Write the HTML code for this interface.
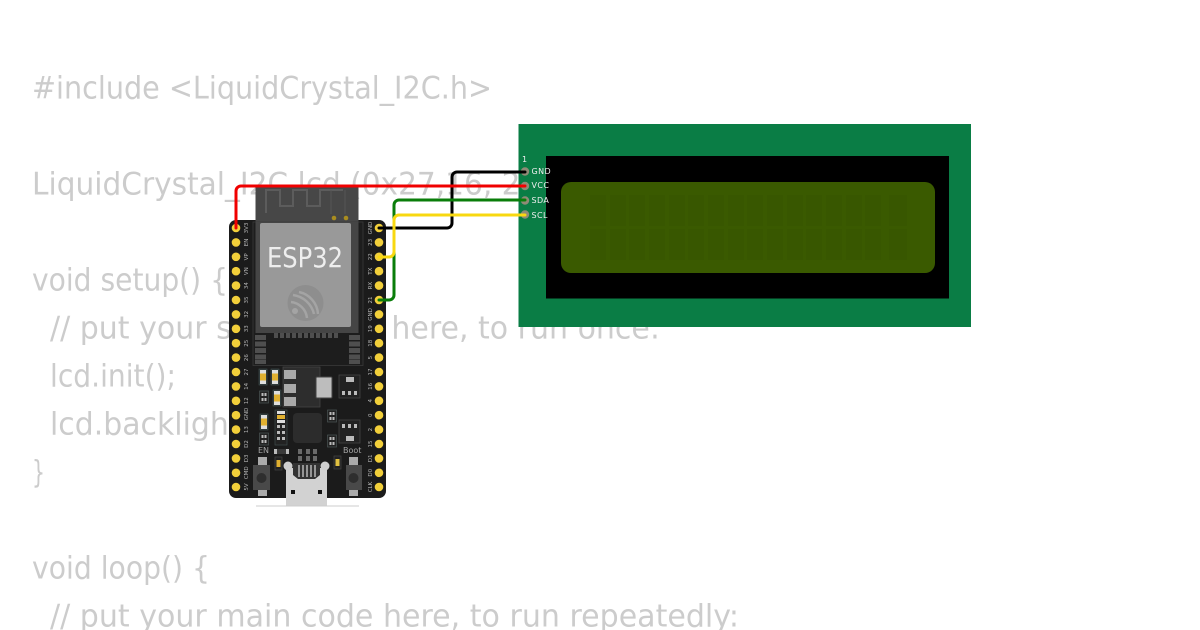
<!DOCTYPE html>
<html><head><meta charset="utf-8"><style>html,body{margin:0;padding:0;background:#fff;width:1200px;height:630px;overflow:hidden}svg{display:block}</style></head><body>
<svg width="1200" height="630" viewBox="0 0 1200 630" xmlns="http://www.w3.org/2000/svg">
<defs>
<g id="led"><rect x="-4" y="-8" width="8" height="16" fill="#2a3233" stroke="#3d4a4a" stroke-width=".7"/><rect x="-3" y="-7" width="6" height="14" fill="#ddd"/><rect x="-3" y="-3.5" width="6" height="7" fill="#e0b030"/></g>
<g id="dual"><rect x="-4.5" y="-6" width="9" height="12" fill="#222" stroke="#4a5555" stroke-width=".7"/><rect x="-2.5" y="-4" width="2" height="3" fill="#bbb"/><rect x=".5" y="-4" width="2" height="3" fill="#bbb"/><rect x="-2.5" y="1" width="2" height="3" fill="#bbb"/><rect x=".5" y="1" width="2" height="3" fill="#bbb"/></g>
</defs>
<g font-family="'DejaVu Sans','Liberation Sans',sans-serif" font-size="31.5" fill="#cccccc">
<text x="32" y="98.500" textLength="460" lengthAdjust="spacingAndGlyphs">#include &lt;LiquidCrystal_I2C.h&gt;</text>
<text x="32" y="194.500" textLength="510" lengthAdjust="spacingAndGlyphs">LiquidCrystal_I2C lcd (0x27,16, 2);</text>
<text x="32" y="290.500" textLength="196" lengthAdjust="spacingAndGlyphs">void setup() {</text>
<text x="50" y="338.500" textLength="610" lengthAdjust="spacingAndGlyphs">// put your setup code here, to run once:</text>
<text x="50" y="386.500" textLength="126" lengthAdjust="spacingAndGlyphs">lcd.init();</text>
<text x="50" y="434.500" textLength="224" lengthAdjust="spacingAndGlyphs">lcd.backlight();</text>
<text x="32" y="482.500" textLength="13" lengthAdjust="spacingAndGlyphs">}</text>
<text x="32" y="578.500" textLength="178" lengthAdjust="spacingAndGlyphs">void loop() {</text>
<text x="50" y="626.500" textLength="689" lengthAdjust="spacingAndGlyphs">// put your main code here, to run repeatedly:</text>
</g>

<!-- LCD -->
<rect x="518.5" y="124" width="452.5" height="203" fill="#0a7d45"/>
<rect x="546" y="156" width="403" height="142.500" fill="#000"/>
<rect x="561" y="182" width="374" height="91" rx="10" fill="#3a5a00"/>
<g fill="#385700">
<rect x="590" y="195" width="16" height="31"/><rect x="610" y="195" width="16" height="31"/><rect x="629" y="195" width="16" height="31"/><rect x="649" y="195" width="16" height="31"/><rect x="669" y="195" width="16" height="31"/><rect x="688" y="195" width="16" height="31"/><rect x="708" y="195" width="16" height="31"/><rect x="728" y="195" width="16" height="31"/><rect x="747" y="195" width="16" height="31"/><rect x="767" y="195" width="16" height="31"/><rect x="787" y="195" width="16" height="31"/><rect x="806" y="195" width="16" height="31"/><rect x="826" y="195" width="16" height="31"/><rect x="846" y="195" width="16" height="31"/><rect x="865" y="195" width="16" height="31"/><rect x="889" y="195" width="18" height="31"/>
<rect x="590" y="229" width="16" height="31"/><rect x="610" y="229" width="16" height="31"/><rect x="629" y="229" width="16" height="31"/><rect x="649" y="229" width="16" height="31"/><rect x="669" y="229" width="16" height="31"/><rect x="688" y="229" width="16" height="31"/><rect x="708" y="229" width="16" height="31"/><rect x="728" y="229" width="16" height="31"/><rect x="747" y="229" width="16" height="31"/><rect x="767" y="229" width="16" height="31"/><rect x="787" y="229" width="16" height="31"/><rect x="806" y="229" width="16" height="31"/><rect x="826" y="229" width="16" height="31"/><rect x="846" y="229" width="16" height="31"/><rect x="865" y="229" width="16" height="31"/><rect x="889" y="229" width="18" height="31"/>
</g>
<g font-family="'DejaVu Sans',sans-serif" font-size="8" fill="#eeeeee" letter-spacing=".4">
<text x="522" y="162">1</text><text x="531.500" y="174">GND</text><text x="531.500" y="188">VCC</text><text x="531.500" y="203">SDA</text><text x="531.500" y="218">SCL</text></g>

<!-- Board -->
<rect x="229" y="220" width="157" height="278" rx="7" fill="#1b1b1b"/>
<rect x="255.500" y="186" width="103" height="40" fill="#474747"/>
<rect x="253" y="222" width="110" height="143.500" fill="#1d1d1d" stroke="#3a3a3a" stroke-width=".8"/>
<rect x="255.500" y="222" width="103" height="111" fill="#454545"/>
<path d="M266 213V190H280V206H293V190H307V206H320V190H343" fill="none" stroke="#5c5c5c" stroke-width="2"/>
<path d="M331 190V214M345 190V214" fill="none" stroke="#565656" stroke-width="1"/>
<circle cx="334" cy="218" r="2.300" fill="#a98d1f"/><circle cx="346" cy="218" r="2.300" fill="#a98d1f"/>
<rect x="260" y="223" width="91" height="104" rx="2" fill="#999999"/>
<text x="267" y="267" font-family="'DejaVu Sans',sans-serif" font-size="28" fill="#eeeeee" textLength="76" lengthAdjust="spacingAndGlyphs">ESP32</text>
<circle cx="305.500" cy="303" r="18" fill="#8e8e8e"/>
<g fill="none" stroke="#a4a4a4" stroke-width="2.500"><path d="M293 295a25 25 0 0 1 21 19"/><path d="M291 302a18 18 0 0 1 16 16"/><path d="M299 292a24 24 0 0 1 19 22"/></g>
<circle cx="295" cy="311" r="3" fill="#a4a4a4"/>
<g fill="#4f4f4f"><rect x="274" y="333" width="4" height="5"/><rect x="280" y="333" width="4" height="5"/><rect x="286" y="333" width="4" height="5"/><rect x="292" y="333" width="4" height="5"/><rect x="298" y="333" width="4" height="5"/><rect x="304" y="333" width="4" height="5"/><rect x="310" y="333" width="4" height="5"/><rect x="316" y="333" width="4" height="5"/><rect x="322" y="333" width="4" height="5"/><rect x="328" y="333" width="4" height="5"/><rect x="334" y="333" width="4" height="5"/>
<rect x="255" y="335" width="11" height="5"/><rect x="255" y="341.500" width="11" height="5"/><rect x="255" y="348" width="11" height="5"/><rect x="255" y="354.500" width="11" height="5"/><rect x="255" y="360" width="11" height="4"/>
<rect x="349" y="335" width="11" height="5"/><rect x="349" y="341.500" width="11" height="5"/><rect x="349" y="348" width="11" height="5"/><rect x="349" y="354.500" width="11" height="5"/><rect x="349" y="360" width="11" height="4"/></g>

<!-- Pins -->
<g fill="#f2cf3a">
<circle cx="236" cy="228" r="4.300"/><circle cx="236" cy="242.400" r="4.300"/><circle cx="236" cy="256.800" r="4.300"/><circle cx="236" cy="271.200" r="4.300"/><circle cx="236" cy="285.600" r="4.300"/><circle cx="236" cy="300" r="4.300"/><circle cx="236" cy="314.400" r="4.300"/><circle cx="236" cy="328.800" r="4.300"/><circle cx="236" cy="343.200" r="4.300"/><circle cx="236" cy="357.600" r="4.300"/><circle cx="236" cy="372" r="4.300"/><circle cx="236" cy="386.400" r="4.300"/><circle cx="236" cy="400.800" r="4.300"/><circle cx="236" cy="415.200" r="4.300"/><circle cx="236" cy="429.600" r="4.300"/><circle cx="236" cy="444" r="4.300"/><circle cx="236" cy="458.400" r="4.300"/><circle cx="236" cy="472.800" r="4.300"/><circle cx="236" cy="487" r="4.300"/>
<circle cx="379" cy="228" r="4.300"/><circle cx="379" cy="242.400" r="4.300"/><circle cx="379" cy="256.800" r="4.300"/><circle cx="379" cy="271.200" r="4.300"/><circle cx="379" cy="285.600" r="4.300"/><circle cx="379" cy="300" r="4.300"/><circle cx="379" cy="314.400" r="4.300"/><circle cx="379" cy="328.800" r="4.300"/><circle cx="379" cy="343.200" r="4.300"/><circle cx="379" cy="357.600" r="4.300"/><circle cx="379" cy="372" r="4.300"/><circle cx="379" cy="386.400" r="4.300"/><circle cx="379" cy="400.800" r="4.300"/><circle cx="379" cy="415.200" r="4.300"/><circle cx="379" cy="429.600" r="4.300"/><circle cx="379" cy="444" r="4.300"/><circle cx="379" cy="458.400" r="4.300"/><circle cx="379" cy="472.800" r="4.300"/><circle cx="379" cy="487" r="4.300"/>
</g>
<g font-family="'DejaVu Sans',sans-serif" font-size="5.500" fill="#b5b5b5" text-anchor="middle">
<text transform="translate(248,228) rotate(-90)">3V3</text><text transform="translate(248,242.400) rotate(-90)">EN</text><text transform="translate(248,256.800) rotate(-90)">VP</text><text transform="translate(248,271.200) rotate(-90)">VN</text><text transform="translate(248,285.600) rotate(-90)">34</text><text transform="translate(248,300) rotate(-90)">35</text><text transform="translate(248,314.400) rotate(-90)">32</text><text transform="translate(248,328.800) rotate(-90)">33</text><text transform="translate(248,343.200) rotate(-90)">25</text><text transform="translate(248,357.600) rotate(-90)">26</text><text transform="translate(248,372) rotate(-90)">27</text><text transform="translate(248,386.400) rotate(-90)">14</text><text transform="translate(248,400.800) rotate(-90)">12</text><text transform="translate(248,414) rotate(-90)">GND</text><text transform="translate(248,429.600) rotate(-90)">13</text><text transform="translate(248,444) rotate(-90)">D2</text><text transform="translate(248,458.400) rotate(-90)">D3</text><text transform="translate(248,472.800) rotate(-90)">CMD</text><text transform="translate(248,487) rotate(-90)">5V</text>
<text transform="translate(372,228) rotate(-90)">GND</text><text transform="translate(372,242.400) rotate(-90)">23</text><text transform="translate(372,256.800) rotate(-90)">22</text><text transform="translate(372,271.200) rotate(-90)">TX</text><text transform="translate(372,285.600) rotate(-90)">RX</text><text transform="translate(372,300) rotate(-90)">21</text><text transform="translate(372,314.400) rotate(-90)">GND</text><text transform="translate(372,328.800) rotate(-90)">19</text><text transform="translate(372,343.200) rotate(-90)">18</text><text transform="translate(372,357.600) rotate(-90)">5</text><text transform="translate(372,372) rotate(-90)">17</text><text transform="translate(372,386.400) rotate(-90)">16</text><text transform="translate(372,400.800) rotate(-90)">4</text><text transform="translate(372,415.200) rotate(-90)">0</text><text transform="translate(372,429.600) rotate(-90)">2</text><text transform="translate(372,444) rotate(-90)">15</text><text transform="translate(372,458.400) rotate(-90)">D1</text><text transform="translate(372,472.800) rotate(-90)">D0</text><text transform="translate(372,487) rotate(-90)">CLK</text>
</g>

<!-- Components -->
<use href="#led" x="263" y="377"/><use href="#led" x="275" y="377"/><use href="#led" x="277" y="398"/><use href="#led" x="264" y="422"/>
<use href="#dual" x="264" y="397"/><use href="#dual" x="264" y="439"/>
<rect x="283" y="367" width="37" height="40" fill="#2d2d2d" stroke="#444" stroke-width=".8"/>
<g fill="#a9a9a9"><rect x="284" y="370" width="12" height="9"/><rect x="284" y="384" width="12" height="9"/><rect x="284" y="397" width="12" height="9"/></g>
<rect x="316" y="377" width="16" height="21" rx="1" fill="#bdbdbd" stroke="#444" stroke-width="1"/>
<rect x="339" y="375" width="21" height="23" fill="#222" stroke="#444" stroke-width=".8"/>
<rect x="346" y="377" width="8" height="5" fill="#bbb"/><rect x="342" y="391" width="3" height="4" fill="#bbb"/><rect x="348" y="391" width="3" height="4" fill="#bbb"/><rect x="354" y="391" width="3" height="4" fill="#bbb"/>
<rect x="339" y="420" width="21" height="23" fill="#222" stroke="#444" stroke-width=".8"/>
<rect x="346" y="436" width="8" height="5" fill="#bbb"/><rect x="342" y="424" width="3" height="4" fill="#bbb"/><rect x="348" y="424" width="3" height="4" fill="#bbb"/><rect x="354" y="424" width="3" height="4" fill="#bbb"/>
<rect x="293" y="413" width="29" height="30" rx="4" fill="#2c2c2c"/>
<rect x="275" y="410" width="12" height="35" fill="#222" stroke="#3e4c4c" stroke-width=".7"/>
<rect x="277" y="411" width="8" height="3" fill="#ddd"/><rect x="277" y="415" width="8" height="4" fill="#e0b030"/><rect x="277" y="420" width="8" height="3" fill="#ddd"/>
<g fill="#bbb"><rect x="277" y="425" width="3" height="3"/><rect x="282" y="425" width="3" height="3"/><rect x="277" y="431" width="3" height="3"/><rect x="282" y="431" width="3" height="3"/><rect x="277" y="437" width="3" height="3"/><rect x="282" y="437" width="3" height="3"/></g>
<use href="#dual" x="332" y="416"/><use href="#dual" x="332" y="441"/>
<rect x="274" y="449" width="15" height="5" fill="#3a3a3a"/><rect x="274" y="449" width="3" height="5" fill="#bbb"/><rect x="286" y="449" width="3" height="5" fill="#bbb"/>
<g fill="#6a6a6a"><rect x="298" y="449" width="4" height="5"/><rect x="306" y="449" width="4" height="5"/><rect x="313" y="449" width="4" height="5"/><rect x="298" y="456" width="4" height="5"/><rect x="306" y="456" width="4" height="5"/><rect x="313" y="456" width="4" height="5"/></g>
<rect x="275" y="457" width="7" height="13" fill="#222" stroke="#444" stroke-width=".7"/><rect x="276.500" y="460" width="4" height="7" fill="#e0b030"/>
<rect x="334" y="456" width="7" height="13" fill="#222" stroke="#444" stroke-width=".7"/><rect x="335.500" y="459" width="4" height="7" fill="#e0c040"/>
<g font-family="'DejaVu Sans',sans-serif" font-size="8" fill="#a5a5a5"><text x="258" y="453">EN</text><text x="343" y="453">Boot</text></g>
<!-- buttons -->
<g><rect x="258" y="457" width="9" height="8" fill="#aaa"/><rect x="258" y="490" width="9" height="6" fill="#aaa"/><rect x="253" y="465" width="17" height="25" fill="#494949"/><circle cx="261.500" cy="478" r="5" fill="#2e2e2e"/>
<rect x="349" y="457" width="9" height="8" fill="#aaa"/><rect x="349" y="490" width="9" height="6" fill="#aaa"/><rect x="346" y="465" width="16" height="25" fill="#494949"/><circle cx="353.500" cy="478" r="5" fill="#2e2e2e"/></g>
<!-- USB -->
<rect x="286" y="468" width="41" height="38" fill="#d2d2d2"/>
<path d="M293 463H320V475L315 479H298L293 475Z" fill="#333"/>
<g stroke="#d8d8d8" stroke-width="1.200"><path d="M299 465V477M303 465V477M307 465V477M311 465V477M315 465V477"/></g>
<circle cx="288" cy="466" r="4.500" fill="#cfcfcf"/><circle cx="325" cy="466" r="4.500" fill="#cfcfcf"/>
<rect x="291" y="490" width="4" height="4" fill="#111"/><rect x="318" y="490" width="4" height="4" fill="#111"/>
<rect x="256" y="505.500" width="103" height="1" fill="#cccccc"/>

<!-- LCD pads -->
<g fill="#8f8b76"><circle cx="525" cy="171.500" r="4.200"/><circle cx="525" cy="186" r="4.200"/><circle cx="525" cy="200.500" r="4.200"/><circle cx="525" cy="214.500" r="4.200"/></g>

<!-- Wires -->
<g fill="none" stroke-width="3" stroke-linecap="round">
<path d="M379 228H447a5 5 0 0 0 5-5V177a5 5 0 0 1 5-5H525" stroke="#000"/>
<path d="M236 228V191a5 5 0 0 1 5-5H525" stroke="#f00000"/>
<path d="M379 300H389a5 5 0 0 0 5-5V205a5 5 0 0 1 5-5H525" stroke="#0a7d0a"/>
<path d="M379 257H389a5 5 0 0 0 5-5V220a5 5 0 0 1 5-5H525" stroke="#f8d810"/>
</g>
</svg>
</body></html>
